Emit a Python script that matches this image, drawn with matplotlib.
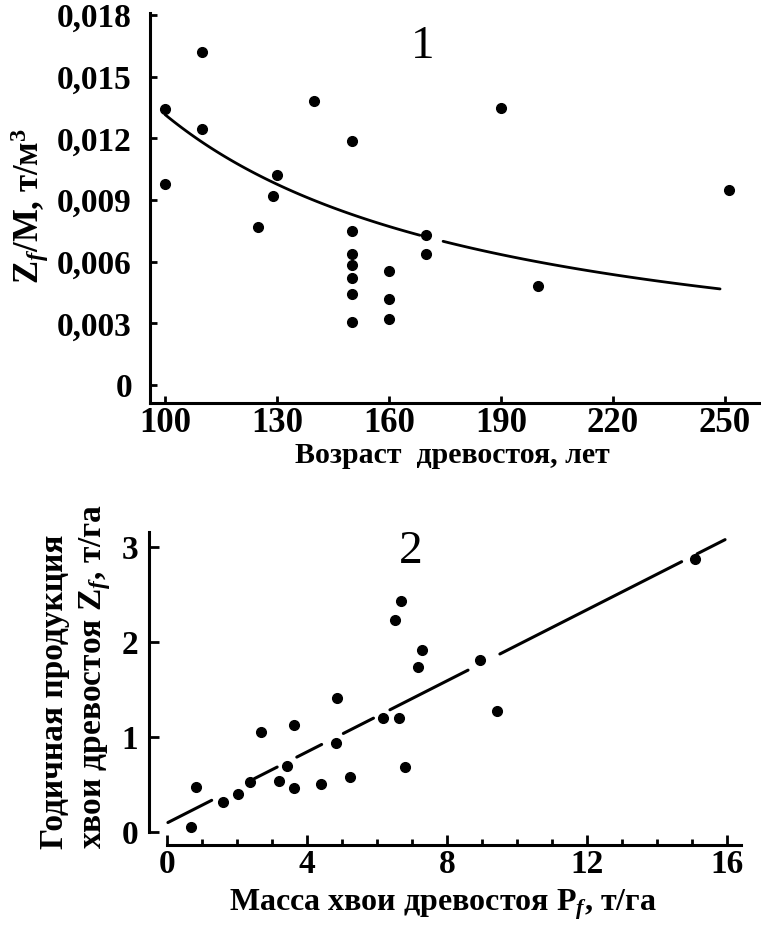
import matplotlib
matplotlib.use('Agg')
import matplotlib.pyplot as plt
import numpy as np

# %% Данные, панель 1: Z_f/M от возраста древостоя
age = np.array([100, 100, 110, 110, 125, 130, 129, 140, 150, 150, 150, 150,
                150, 150, 150, 160, 160, 160, 170, 170, 190, 200, 251])  # [лет]
zm = np.array([0.01345, 0.0098, 0.0162, 0.01244, 0.0077, 0.0102, 0.0092,
               0.0138, 0.01185, 0.0075, 0.0064, 0.00585, 0.0052, 0.00445,
               0.00305, 0.00556, 0.0042, 0.0032, 0.0073, 0.0064, 0.0135,
               0.0048, 0.0095])  # [т/м3]
a1, b1 = 0.01316, -1.135          # линия тренда: zm = a1*(age/100)**b1
trend1_parts = [(100, 168.3), (174.5, 248.7)]
age_ticks = [100, 130, 160, 190, 220, 250]
zm_ticks = [0, 0.003, 0.006, 0.009, 0.012, 0.015, 0.018]
zm_labels = ['0', '0,003', '0,006', '0,009', '0,012', '0,015', '0,018']

# %% Данные, панель 2: продукция хвои от массы хвои
mass = np.array([0.68, 0.83, 1.59, 2.04, 2.37, 2.70, 3.21, 3.44, 3.63, 3.63,
                 4.39, 4.87, 4.82, 5.23, 6.18, 6.64, 6.80, 6.68, 6.51, 7.28,
                 7.16, 8.94, 9.42, 15.09])  # [т/га]
prod = np.array([0.05, 0.47, 0.32, 0.40, 0.53, 1.05, 0.54, 0.70, 1.13, 0.46,
                 0.51, 1.41, 0.94, 0.58, 1.20, 1.20, 0.68, 2.43, 2.23, 1.92,
                 1.74, 1.81, 1.27, 2.88])  # [т/га]
a2, b2 = 0.094, 0.1873            # линия тренда: prod = a2 + b2*mass
trend2_parts = [(0.03, 1.28), (2.5, 3.15), (3.71, 4.42), (5.04, 5.9),
                (6.37, 8.6), (9.51, 14.7), (15.14, 15.94)]
mass_ticks = [0, 4, 8, 12, 16]
prod_ticks = [0, 1, 2, 3]

# %% Оформление
plt.rcParams['font.family'] = ['Liberation Serif', 'DejaVu Serif']
plt.rcParams['font.weight'] = 'bold'
plt.rcParams['mathtext.fontset'] = 'custom'
plt.rcParams['mathtext.rm'] = 'Liberation Serif:bold'
plt.rcParams['mathtext.it'] = 'Liberation Serif:italic:bold'
plt.rcParams['mathtext.bf'] = 'Liberation Serif:bold'

W, H = 761, 934
fig = plt.figure(figsize=(W/100, H/100), dpi=100)

# %% Панель 1
ax1 = fig.add_axes([0.1971, 0.5685, 0.8016, 0.4176])
ax1.plot(age, zm, 'ko', ms=7)
for x0, x1 in trend1_parts:
    xx = np.linspace(x0, x1, 100)
    ax1.plot(xx, a1*(xx/100)**b1, 'k-', lw=2.0, solid_capstyle='round')
ax1.text(169.1, 0.01645, '1', fontsize=34, fontweight='normal',
         ha='center', va='center')
ax1.set_xlim(95.98, 259.4)
ax1.set_ylim(-0.00087, 0.0181)
ax1.set_xticks(age_ticks)
ax1.set_yticks(zm_ticks)
ax1.set_yticklabels(zm_labels)
ax1.tick_params(direction='in', length=5, width=2, labelsize=24)
ax1.tick_params(axis='x', labelsize=25, pad=3)
ax1.tick_params(axis='y', pad=13)
ax1.spines[['top', 'right']].set_visible(False)
ax1.spines[['left', 'bottom']].set_linewidth(2.2)
fig.text(452/W, 1 - 463/H, 'Возраст  древостоя, лет', fontsize=21.5,
         fontweight='bold', ha='center', va='baseline')
fig.text(30/W, 1 - 206/H, r'Z$_f$/M, т/м$^3$', fontsize=25,
         fontweight='bold', rotation=90, ha='center', va='center')

# %% Панель 2
ax2 = fig.add_axes([0.1958, 0.0953, 0.7832, 0.3351])
ax2.plot(mass, prod, 'ko', ms=7)
for x0, x1 in trend2_parts:
    xx = np.array([x0, x1])
    ax2.plot(xx, a2 + b2*xx, 'k-', lw=2.2, solid_capstyle='round')
ax2.text(6.97, 2.95, '2', fontsize=34, fontweight='normal',
         ha='center', va='center')
ax2.set_xlim(-0.51, 16.51)
ax2.set_ylim(-0.137, 3.16)
ax2.set_xticks(mass_ticks)
ax2.set_xticks(np.arange(0, 17, 1), minor=True)
ax2.set_yticks(prod_ticks)
ax2.tick_params(direction='in', length=7, width=2, labelsize=24)
ax2.tick_params(which='minor', direction='in', length=4, width=2)
ax2.tick_params(axis='y', pad=8)
ax2.tick_params(axis='x', pad=3)
ax2.spines[['top', 'right']].set_visible(False)
ax2.spines[['left', 'bottom']].set_linewidth(2.2)
ax2.spines['left'].set_bounds(0, 3.16)
ax2.spines['bottom'].set_bounds(0, 16.4)
fig.text(443/W, 1 - 905/H, r'Масса хвои древостоя P$_f$, т/га', fontsize=23,
         fontweight='bold', ha='center', va='center')
fig.text(76/W, 1 - 676/H,
         'Годичная продукция\n' + r'хвои древостоя Z$_f$, т/га',
         fontsize=24, fontweight='bold', rotation=90, ha='center',
         va='center', linespacing=1.3, multialignment='left')

plt.savefig('out.png', dpi=100)
